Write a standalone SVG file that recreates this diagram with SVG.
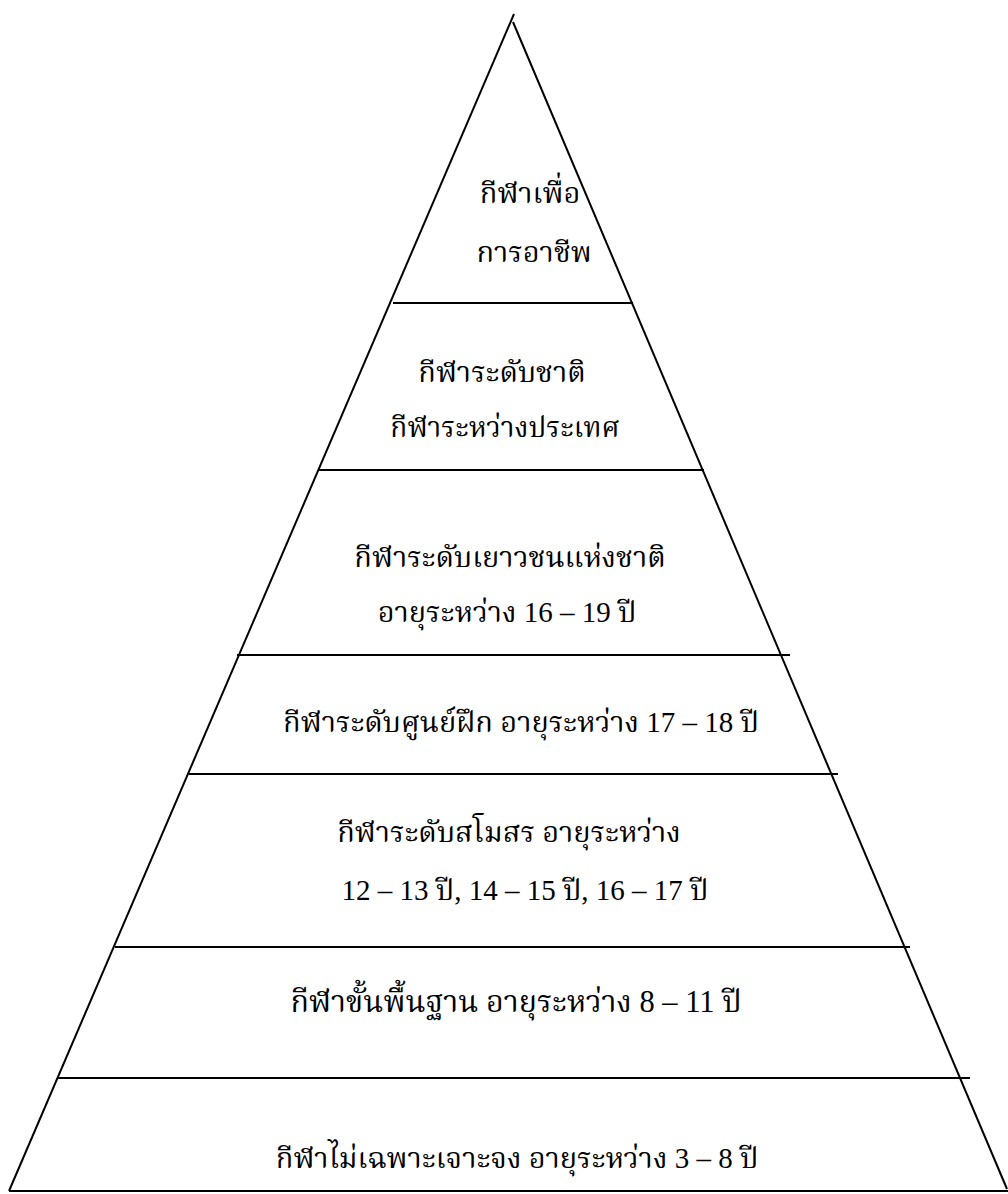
<svg xmlns="http://www.w3.org/2000/svg" width="1008" height="1194" viewBox="0 0 1008 1194">
<style>
.ln{stroke:#000;stroke-width:2;fill:none;}
.t{font-family:"Liberation Serif","Noto Serif Thai","Noto Sans",serif;font-size:29px;fill:#000;text-anchor:middle;}
</style>
<rect width="1008" height="1194" fill="#fff"/>
<g id="connectors">
<line class="ln" x1="514" y1="14" x2="9" y2="1191"/>
<line class="ln" x1="513" y1="22" x2="1007" y2="1189"/>
<line class="ln" x1="393" y1="303" x2="633" y2="303"/>
<line class="ln" x1="318" y1="470" x2="704" y2="470"/>
<line class="ln" x1="237" y1="655" x2="790" y2="655"/>
<line class="ln" x1="189" y1="774" x2="838" y2="774"/>
<line class="ln" x1="115" y1="947" x2="910" y2="947"/>
<line class="ln" x1="58" y1="1078" x2="970" y2="1078"/>
<line class="ln" x1="9" y1="1191" x2="1008" y2="1191"/>
</g>
<g id="level7"><text class="t" x="530" y="203">กีฬาเพื่อ</text><text class="t" x="534" y="262">การอาชีพ</text></g>
<g id="level6"><text class="t" x="502" y="382">กีฬาระดับชาติ</text><text class="t" x="505" y="437" style="font-size:28px">กีฬาระหว่างประเทศ</text></g>
<g id="level5"><text class="t" x="510" y="567">กีฬาระดับเยาวชนแห่งชาติ</text><text class="t" x="507" y="622">อายุระหว่าง 16 – 19 ปี</text></g>
<g id="level4"><text class="t" x="521" y="732">กีฬาระดับศูนย์ฝึก อายุระหว่าง 17 – 18 ปี</text></g>
<g id="level3"><text class="t" x="509" y="842">กีฬาระดับสโมสร อายุระหว่าง</text><text class="t" x="525" y="900">12 – 13 ปี, 14 – 15 ปี, 16 – 17 ปี</text></g>
<g id="level2"><text class="t" x="516" y="1012" style="font-size:30.5px">กีฬาขั้นพื้นฐาน อายุระหว่าง 8 – 11 ปี</text></g>
<g id="level1"><text class="t" x="517" y="1168">กีฬาไม่เฉพาะเจาะจง อายุระหว่าง 3 – 8 ปี</text></g>
</svg>
